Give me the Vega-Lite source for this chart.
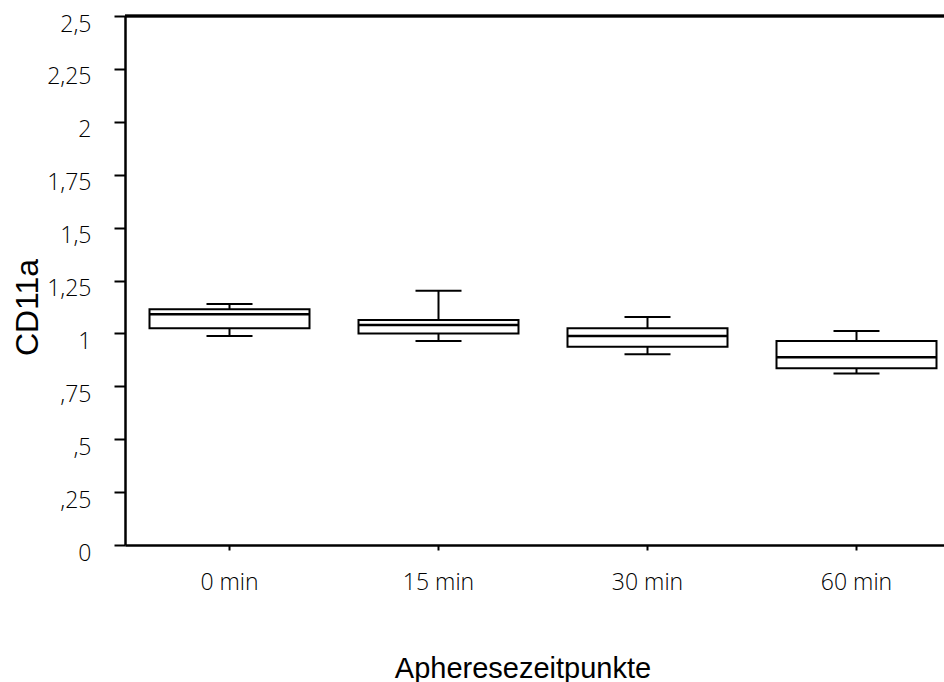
{
  "$schema": "https://vega.github.io/schema/vega-lite/v6.json",
  "autosize": "none",
  "padding": {"left": 125, "top": 16, "right": 0, "bottom": 137},
  "width": 819,
  "height": 529,
  "background": "white",
  "config": {"view": {"stroke": null}},
  "data": {
    "values": [
      {"t": "0 min", "lo": 0.988, "q1": 1.024, "med": 1.090, "q3": 1.114, "hi": 1.139},
      {"t": "15 min", "lo": 0.964, "q1": 1.000, "med": 1.040, "q3": 1.063, "hi": 1.202},
      {"t": "30 min", "lo": 0.901, "q1": 0.937, "med": 0.988, "q3": 1.024, "hi": 1.078},
      {"t": "60 min", "lo": 0.811, "q1": 0.835, "med": 0.887, "q3": 0.964, "hi": 1.011}
    ]
  },
  "encoding": {
    "x": {
      "field": "t",
      "type": "nominal",
      "sort": ["0 min", "15 min", "30 min", "60 min"],
      "scale": {"type": "band", "range": [0, 836], "paddingInner": 0, "paddingOuter": 0},
      "axis": {
        "title": "Apheresezeitpunkte",
        "titleFont": "Liberation Sans",
        "titleFontSize": 29,
        "titleFontWeight": "normal",
        "titleColor": "black",
        "titleX": 397.5,
        "titleY": 132,
        "titleBaseline": "alphabetic",
        "titleAlign": "center",
        "labelAngle": 0,
        "labelFont": "Open Sans",
        "labelFontSize": 23,
        "labelFontWeight": 300,
        "labelColor": "black",
        "labelBaseline": "alphabetic",
        "labelPadding": 39,
        "tickSize": 5,
        "tickWidth": 2,
        "tickColor": "black",
        "domainColor": "black",
        "domainWidth": 2.5,
        "grid": false
      }
    }
  },
  "layer": [
    {
      "mark": {"type": "rule", "color": "black", "strokeWidth": 2.5},
      "encoding": {
        "x": null,
        "y": {
          "datum": 2.5,
          "type": "quantitative",
          "scale": {"domain": [0, 2.5], "nice": false},
          "axis": {
            "title": "CD11a",
            "titleFont": "Liberation Sans",
            "titleFontSize": 32,
            "titleFontWeight": "normal",
            "titleColor": "black",
            "titleAngle": -90,
            "titleX": -88,
            "titleY": 291,
            "titleBaseline": "alphabetic",
            "titleAlign": "center",
            "values": [0, 0.125, 0.25, 0.375, 0.5, 0.625, 0.75, 0.875, 1, 1.125, 1.25, 1.375, 1.5, 1.625, 1.75, 1.875, 2, 2.125, 2.25, 2.375, 2.5],
            "labelExpr": "round(datum.value*8)%2==1 ? '' : (datum.value==0 ? '0' : replace(datum.value<1 ? substring(format(datum.value,'.2~f'),1) : format(datum.value,'.2~f'), '.', ','))",
            "labelFont": "Open Sans",
            "labelFontSize": 23,
            "labelFontWeight": 300,
            "labelColor": "black",
            "labelAlign": "right",
            "labelBaseline": "alphabetic",
            "labelOffset": 15,
            "labelPadding": 23,
            "labelOverlap": false,
            "labelFlush": false,
            "labelBound": false,
            "tickSize": {"condition": {"test": "round(datum.value*8)%2==1", "value": 6}, "value": 11},
            "tickWidth": 2,
            "tickColor": "black",
            "domainColor": "black",
            "domainWidth": 2.5,
            "grid": false
          }
        }
      }
    },
    {
      "mark": {"type": "rule", "color": "black", "strokeWidth": 2},
      "encoding": {
        "y": {"field": "lo", "type": "quantitative"},
        "y2": {"field": "hi"}
      }
    },
    {
      "mark": {"type": "bar", "size": 160, "fill": "white", "stroke": "black", "strokeWidth": 2},
      "encoding": {
        "y": {"field": "q1", "type": "quantitative"},
        "y2": {"field": "q3"}
      }
    },
    {
      "mark": {"type": "tick", "size": 160, "thickness": 2.5, "color": "black", "opacity": 1},
      "encoding": {
        "y": {"field": "med", "type": "quantitative"}
      }
    },
    {
      "mark": {"type": "tick", "size": 46, "thickness": 2, "color": "black", "opacity": 1},
      "encoding": {
        "y": {"field": "lo", "type": "quantitative"}
      }
    },
    {
      "mark": {"type": "tick", "size": 46, "thickness": 2, "color": "black", "opacity": 1},
      "encoding": {
        "y": {"field": "hi", "type": "quantitative"}
      }
    }
  ]
}
